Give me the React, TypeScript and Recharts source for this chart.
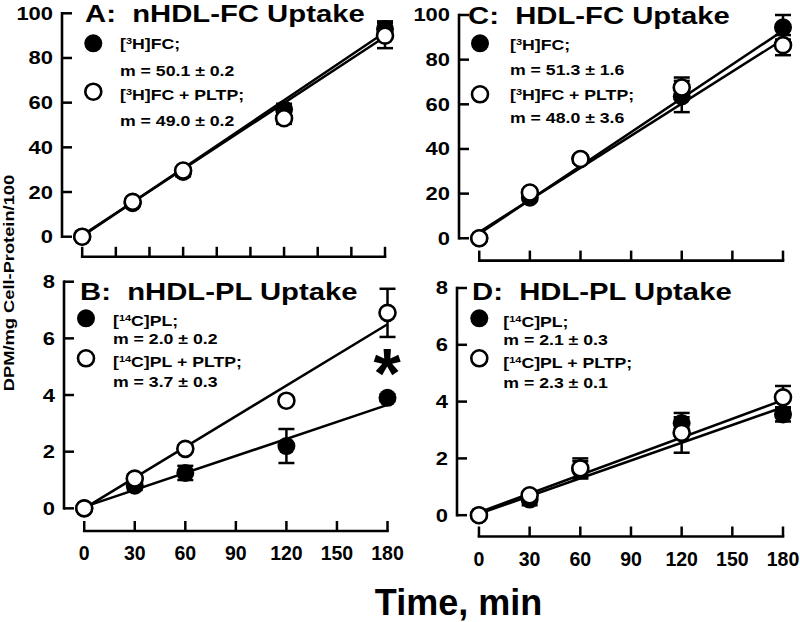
import React from 'react';
import { ComposedChart, XAxis, YAxis, Scatter, ErrorBar, ReferenceLine } from 'recharts';

// ---------- data ----------
const times = [0, 30, 60, 120, 180];
const fitTimes = [0, 180];

// A: nHDL-FC uptake
const aFc = [0, 15, 29, 57, 93];
const aFcErr = [0, 1, 2, 2.5, 3.4];
const aPltp = [0, 15.6, 29.6, 53, 90];
const aPltpErr = [0, 1, 1.5, 2.5, 5.6];
const aFcFit = [0.2, 91.5];
const aPltpFit = [0.6, 89.5];

// B: nHDL-PL uptake
const bFc = [0, 0.8, 1.25, 2.2, 3.9];
const bFcErr = [0, 0.15, 0.25, 0.6, 0.12];
const bPltp = [0, 1.05, 2.1, 3.8, 6.9];
const bPltpErr = [0, 0.15, 0.12, 0.12, 0.85];
const bFcFit = [0.05, 3.65];
const bPltpFit = [0, 6.5];

// C: HDL-FC uptake
const cFc = [0, 18.2, 35.5, 63.5, 94.5];
const cFcErr = [0, 1.5, 1.5, 7, 5.5];
const cPltp = [0, 20.5, 35.5, 67.5, 86.5];
const cPltpErr = [0, 1.5, 1.5, 4.5, 4.5];
const cFcFit = [2, 93];
const cPltpFit = [2.8, 89];

// D: HDL-PL uptake
const dFc = [0, 0.55, 1.6, 3.25, 3.55];
const dFcErr = [0, 0.2, 0.3, 0.2, 0.25];
const dPltp = [0, 0.7, 1.65, 2.9, 4.15];
const dPltpErr = [0, 0.12, 0.35, 0.7, 0.4];
const dFcFit = [0.05, 3.8];
const dPltpFit = [0.1, 4.05];

const xTicksTopLeft = [0, 20, 40, 60, 80, 100, 120, 140, 160, 180];
const xTicks30 = [0, 30, 60, 90, 120, 150, 180];
const yTicksFC = [0, 20, 40, 60, 80, 100];
const yTicksPL = [0, 2, 4, 6, 8];

const titles = ['A:  nHDL-FC Uptake', 'B:  nHDL-PL Uptake', 'C:  HDL-FC Uptake', 'D:  HDL-PL Uptake'];
const slopesA = ['m = 50.1 \u00B1 0.2', 'm = 49.0 \u00B1 0.2'];
const slopesB = ['m = 2.0 \u00B1 0.2', 'm = 3.7 \u00B1 0.3'];
const slopesC = ['m = 51.3 \u00B1 1.6', 'm = 48.0 \u00B1 3.6'];
const slopesD = ['m = 2.1 \u00B1 0.3', 'm = 2.3 \u00B1 0.1'];

// ---------- helpers ----------
const FONT = "'Liberation Sans', Arial, Helvetica, sans-serif";
const W = 800;
const H = 622;

type Pt = { t: number; v: number; e?: number };
const series = (vals: number[], errs: number[]): Pt[] => times.map((t, i) => ({ t, v: vals[i], e: errs[i] }));
const fit = (ends: number[]): Pt[] => fitTimes.map((t, i) => ({ t, v: ends[i] }));

const NoDot = () => <g />;
const FilledDot = (p: any) => <circle cx={p.cx} cy={p.cy} r={9} fill="#000" />;
const OpenDot = (p: any) => <circle cx={p.cx} cy={p.cy} r={8} fill="#fff" stroke="#000" strokeWidth={2.6} />;

const makeXTick = (showLabel: boolean) => (p: any) => (
  <g>
    <line x1={p.x} y1={p.y} x2={p.x} y2={p.y - 10} stroke="#000" strokeWidth={2.5} />
    {showLabel && (
      <text x={p.x} y={p.y + 29} textAnchor="middle" fontSize={19.5} fontWeight="bold" fontFamily={FONT} fill="#000">
        {p.payload.value}
      </text>
    )}
  </g>
);

const YTick = (p: any) => (
  <g>
    <line x1={p.x} y1={p.y} x2={p.x + 10} y2={p.y} stroke="#000" strokeWidth={2.5} />
    <text
      transform={`translate(${p.x - 9},${p.y}) scale(1.22,1)`}
      textAnchor="end"
      dy="0.36em"
      fontSize={18}
      fontWeight="bold"
      fontFamily={FONT}
      fill="#000"
    >
      {p.payload.value}
    </text>
  </g>
);

type Cfg = {
  plotLeft: number; plotRight: number; plotTop: number; plotBottom: number;
  xDomain: number[]; yDomain: number[]; xTicks: number[]; yTicks: number[]; xLabels: boolean;
  fc: number[]; fcErr: number[]; pl: number[]; plErr: number[]; fcFit: number[]; plFit: number[];
};

function Panel({ cfg }: { cfg: Cfg }) {
  const margin = { top: cfg.plotTop, left: cfg.plotLeft - 1, right: W - cfg.plotRight, bottom: H - cfg.plotBottom - 1 };
  const x0 = cfg.xDomain[0];
  const y0 = cfg.yDomain[0];
  return (
    <div style={{ position: 'absolute', left: 0, top: 0 }}>
      <ComposedChart width={W} height={H} margin={margin}>
        <XAxis type="number" dataKey="t" domain={cfg.xDomain} ticks={cfg.xTicks} interval={0} height={1}
          axisLine={false} tickLine={false} tickSize={0} tickMargin={0} tick={makeXTick(cfg.xLabels)} />
        <YAxis type="number" dataKey="v" domain={cfg.yDomain} ticks={cfg.yTicks} interval={0} width={1}
          axisLine={false} tickLine={false} tickSize={0} tickMargin={0} tick={YTick} />
        <ReferenceLine segment={[{ x: x0, y: cfg.yTicks[0] }, { x: x0, y: cfg.yTicks[cfg.yTicks.length - 1] }]}
          stroke="#000" strokeWidth={2.6} ifOverflow="visible" strokeLinecap="square" />
        <ReferenceLine segment={[{ x: cfg.xTicks[0], y: y0 }, { x: cfg.xTicks[cfg.xTicks.length - 1], y: y0 }]}
          stroke="#000" strokeWidth={2.6} ifOverflow="visible" strokeLinecap="square" />
        <Scatter data={fit(cfg.fcFit)} line={{ stroke: '#000', strokeWidth: 2.5 }} shape={NoDot} isAnimationActive={false} />
        <Scatter data={fit(cfg.plFit)} line={{ stroke: '#000', strokeWidth: 2.5 }} shape={NoDot} isAnimationActive={false} />
        <Scatter data={series(cfg.fc, cfg.fcErr)} shape={FilledDot} isAnimationActive={false}>
          <ErrorBar dataKey="e" direction="y" width={8} stroke="#000" strokeWidth={2.5} />
        </Scatter>
        <Scatter data={series(cfg.pl, cfg.plErr)} shape={OpenDot} isAnimationActive={false}>
          <ErrorBar dataKey="e" direction="y" width={8} stroke="#000" strokeWidth={2.5} />
        </Scatter>
      </ComposedChart>
    </div>
  );
}

const panels: Cfg[] = [
  { plotLeft: 62, plotRight: 385, plotTop: 13.3, plotBottom: 256.8, xDomain: [-12, 180], yDomain: [-9, 100],
    xTicks: xTicksTopLeft, yTicks: yTicksFC, xLabels: false, fc: aFc, fcErr: aFcErr, pl: aPltp, plErr: aPltpErr, fcFit: aFcFit, plFit: aPltpFit },
  { plotLeft: 64, plotRight: 387.5, plotTop: 281.7, plotBottom: 531, xDomain: [-12, 180], yDomain: [-0.8, 8],
    xTicks: xTicks30, yTicks: yTicksPL, xLabels: true, fc: bFc, fcErr: bFcErr, pl: bPltp, plErr: bPltpErr, fcFit: bFcFit, plFit: bPltpFit },
  { plotLeft: 459, plotRight: 783, plotTop: 15, plotBottom: 260.6, xDomain: [-12, 180], yDomain: [-10, 100],
    xTicks: xTicks30, yTicks: yTicksFC, xLabels: false, fc: cFc, fcErr: cFcErr, pl: cPltp, plErr: cPltpErr, fcFit: cFcFit, plFit: cPltpFit },
  { plotLeft: 457, plotRight: 783, plotTop: 288, plotBottom: 536.5, xDomain: [-13, 180], yDomain: [-0.75, 8],
    xTicks: xTicks30, yTicks: yTicksPL, xLabels: true, fc: dFc, fcErr: dFcErr, pl: dPltp, plErr: dPltpErr, fcFit: dFcFit, plFit: dPltpFit },
];

function SText({ x, y, size, sx = 1.22, anchor = 'start', children }: any) {
  return (
    <text transform={`translate(${x},${y}) scale(${sx},1)`} fontSize={size} fontWeight="bold" fontFamily={FONT}
      textAnchor={anchor} fill="#000" style={{ whiteSpace: 'pre' }}>
      {children}
    </text>
  );
}

function Iso({ n, rest }: { n: string; rest: string }) {
  return (
    <>
      <tspan>[</tspan>
      <tspan fontSize={9} dy={-5}>{n}</tspan>
      <tspan dy={5}>{rest}</tspan>
    </>
  );
}

type Leg = { cx: number; cy1: number; cy2: number; tx: number; b: number[]; iso: string; name: string; slopes: string[] };
const legends: Leg[] = [
  { cx: 93.3, cy1: 43.3, cy2: 91.7, tx: 120, b: [49, 76, 100, 126], iso: '3', name: 'H]FC', slopes: slopesA },
  { cx: 86, cy1: 318.3, cy2: 358.3, tx: 113, b: [326, 344.3, 366.7, 386.7], iso: '14', name: 'C]PL', slopes: slopesB },
  { cx: 480, cy1: 43.3, cy2: 94.3, tx: 510, b: [50, 75, 100, 123], iso: '3', name: 'H]FC', slopes: slopesC },
  { cx: 479.3, cy1: 318.3, cy2: 358.3, tx: 503.3, b: [326.7, 345, 368.3, 388.3], iso: '14', name: 'C]PL', slopes: slopesD },
];
const titlePos = [
  [85, 22],
  [80, 300],
  [468, 23.5],
  [472, 300],
];

function Overlay() {
  return (
    <svg width={W} height={H} style={{ position: 'absolute', left: 0, top: 0 }}>
      {titles.map((t, i) => (
        <SText key={t} x={titlePos[i][0]} y={titlePos[i][1]} size={24}>{t}</SText>
      ))}
      {legends.map((l, i) => (
        <g key={i}>
          <circle cx={l.cx} cy={l.cy1} r={9} fill="#000" />
          <circle cx={l.cx} cy={l.cy2} r={8} fill="#fff" stroke="#000" strokeWidth={2.6} />
          <SText x={l.tx} y={l.b[0]} size={14.5}><Iso n={l.iso} rest={l.name + ';'} /></SText>
          <SText x={l.tx} y={l.b[1]} size={14.5}>{l.slopes[0]}</SText>
          <SText x={l.tx} y={l.b[2]} size={14.5}><Iso n={l.iso} rest={l.name + ' + PLTP;'} /></SText>
          <SText x={l.tx} y={l.b[3]} size={14.5}>{l.slopes[1]}</SText>
        </g>
      ))}
      <text transform="translate(14,283) rotate(-90) scale(1.18,1)" textAnchor="middle" fontSize={15.5} fontWeight="bold"
        fontFamily={FONT} fill="#000">DPM/mg Cell-Protein/100</text>
      <text x={458.5} y={615} textAnchor="middle" fontSize={36} fontWeight="bold" fontFamily={FONT} fill="#000">Time, min</text>
      <text x={387} y={398} textAnchor="middle" fontSize={70} fontWeight="bold" fontFamily={FONT} fill="#000">*</text>
    </svg>
  );
}

export default function App() {
  return (
    <div style={{ position: 'absolute', left: 0, top: 0, width: W, height: H, background: '#fff', overflow: 'hidden' }}>
      {panels.map((c, i) => (
        <Panel key={i} cfg={c} />
      ))}
      <Overlay />
    </div>
  );
}
